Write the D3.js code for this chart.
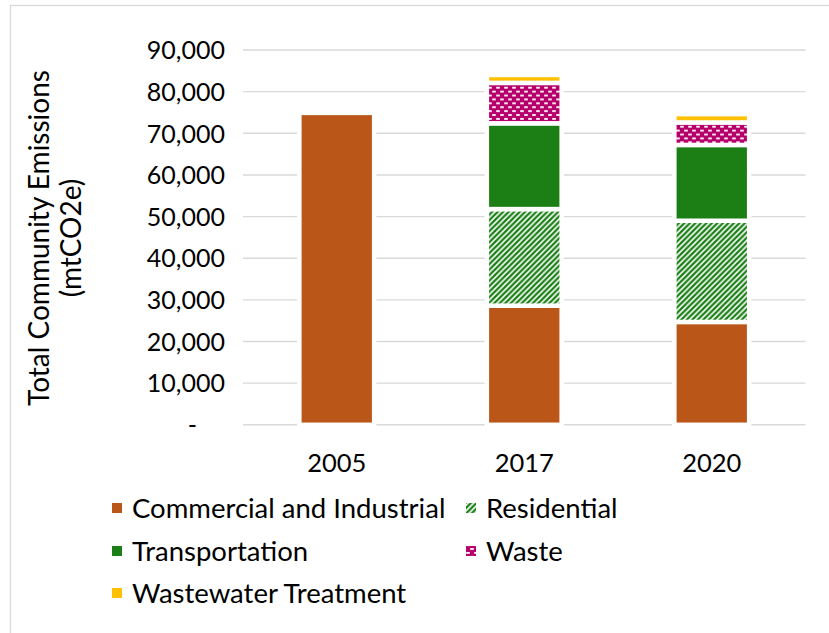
<!DOCTYPE html>
<html>
<head>
<meta charset="utf-8">
<script src="https://cdn.jsdelivr.net/npm/d3@7"></script>
<style>
  body { margin: 0; background: #fff; }
  svg { display: block; }
  text { font-family: Lato, "Open Sans", sans-serif; fill: #000; }
</style>
</head>
<body>
<svg id="chart" width="829" height="633"></svg>
<script>
// Community emissions inventory (mtCO2e) by sector and year
const years = ["2005", "2017", "2020"];
const sectors = ["Commercial and Industrial", "Residential", "Transportation", "Waste", "Wastewater Treatment"];
const commercial     = [74900, 28600, 24700];
const residential    = [0, 23200, 24300];
const transportation = [0, 20600, 18200];
const waste          = [0, 9700, 5400];
const wastewater     = [0, 1900, 2000];
const yTicks = [0, 10000, 20000, 30000, 40000, 50000, 60000, 70000, 80000, 90000];
const yTitle = ["Total Community Emissions", "(mtCO2e)"];

const seriesValues = [commercial, residential, transportation, waste, wastewater];
const rows = years.map((yr, i) => {
  const r = { year: yr };
  sectors.forEach((s, k) => { r[s] = seriesValues[k][i]; });
  return r;
});

const colors = {
  "Commercial and Industrial": "#BA5718",
  "Residential": "#1B7F16",
  "Transportation": "#1B7F16",
  "Waste": "#B5006B",
  "Wastewater Treatment": "#FFC000"
};

const svg = d3.select("#chart");

// outer chart frame
svg.append("rect")
  .attr("x", 10.5).attr("y", 5.5)
  .attr("width", 900).attr("height", 700)
  .attr("fill", "none").attr("stroke", "#D9D9D9").attr("stroke-width", 1.3);

// fill patterns
const defs = svg.append("defs");
const hatch = defs.append("pattern")
  .attr("id", "hatch-res").attr("patternUnits", "userSpaceOnUse")
  .attr("width", 5.5).attr("height", 5.5);
hatch.append("rect").attr("width", 5.5).attr("height", 5.5).attr("fill", "#fff");
hatch.append("path")
  .attr("d", "M-1,6.5 L6.5,-1 M-2.5,2.5 L2.5,-2.5 M3,8 L8,3")
  .attr("stroke", colors["Residential"]).attr("stroke-width", 2.3);

const dash = defs.append("pattern")
  .attr("id", "dash-waste").attr("patternUnits", "userSpaceOnUse")
  .attr("width", 8).attr("height", 7.8);
dash.append("rect").attr("width", 8).attr("height", 7.8).attr("fill", colors["Waste"]);
dash.append("rect").attr("x", 0.2).attr("y", 1).attr("width", 3.6).attr("height", 1.8).attr("fill", "#fff");
dash.append("rect").attr("x", 4.2).attr("y", 4.9).attr("width", 3.6).attr("height", 1.8).attr("fill", "#fff");

const fillFor = s => s === "Residential" ? "url(#hatch-res)"
                  : s === "Waste" ? "url(#dash-waste)"
                  : colors[s];

// scales
const x = d3.scaleBand().domain(years).range([243, 805.5])
  .paddingInner(0.601).paddingOuter(0.3005);
const y = d3.scaleLinear().domain([0, 90000]).range([424.8, 50]);

// gridlines
svg.append("g").selectAll("line").data(yTicks).join("line")
  .attr("x1", 243).attr("x2", 805.5)
  .attr("y1", d => y(d)).attr("y2", d => y(d))
  .attr("stroke", "#D9D9D9").attr("stroke-width", 1.4);

// y axis labels
const fmt = d3.format(",");
const yAxis = d3.axisLeft(y).tickValues(yTicks)
  .tickFormat(d => d === 0 ? "-" : fmt(d)).tickSize(0).tickPadding(0);
const yg = svg.append("g").attr("transform", "translate(225,0)").call(yAxis);
yg.select(".domain").remove();
yg.selectAll("text")
  .attr("font-size", 25).attr("fill", "#000")
  .style("font-family", "Lato, 'Open Sans', sans-serif")
  .attr("dy", "0.35em");
yg.selectAll(".tick").filter(d => d === 0).select("text").attr("dx", -28);

// x axis labels
const xAxis = d3.axisBottom(x).tickSize(0).tickPadding(0);
const xg = svg.append("g").attr("transform", "translate(0,463)").call(xAxis);
xg.select(".domain").remove();
xg.selectAll("text")
  .attr("font-size", 25.5).attr("fill", "#000")
  .style("font-family", "Lato, 'Open Sans', sans-serif")
  .attr("dy", "0.35em").attr("y", 0);

// stacked bars
const stacked = d3.stack().keys(sectors)(rows);
svg.append("g").selectAll("g").data(stacked).join("g")
  .attr("fill", d => fillFor(d.key))
  .selectAll("rect").data(d => d.filter(p => p[1] - p[0] > 0)).join("rect")
  .attr("x", d => x(d.data.year))
  .attr("width", x.bandwidth())
  .attr("y", d => y(d[1]))
  .attr("height", d => y(d[0]) - y(d[1]))
  .attr("stroke", "#fff").attr("stroke-width", 4.5);

// y axis title
const title = svg.append("text")
  .attr("transform", "translate(56,238) rotate(-90)")
  .attr("text-anchor", "middle")
  .attr("font-size", 28);
title.selectAll("tspan").data(yTitle).join("tspan")
  .attr("x", 0).attr("dy", (d, i) => i === 0 ? "-0.25em" : "1.15em")
  .text(d => d);

// legend
const legendPos = [
  { x: 112, y: 508 }, { x: 466, y: 508 },
  { x: 112, y: 551 }, { x: 466, y: 551 },
  { x: 112, y: 593 }
];
const lg = svg.append("g").selectAll("g").data(sectors).join("g")
  .attr("transform", (d, i) => `translate(${legendPos[i].x},${legendPos[i].y})`);
lg.append("rect")
  .attr("x", 0).attr("y", -5).attr("width", 10).attr("height", 10)
  .attr("fill", d => fillFor(d));
lg.append("text")
  .attr("x", 20).attr("dy", "0.35em")
  .attr("font-size", 27.5)
  .text(d => d);
</script>
</body>
</html>
